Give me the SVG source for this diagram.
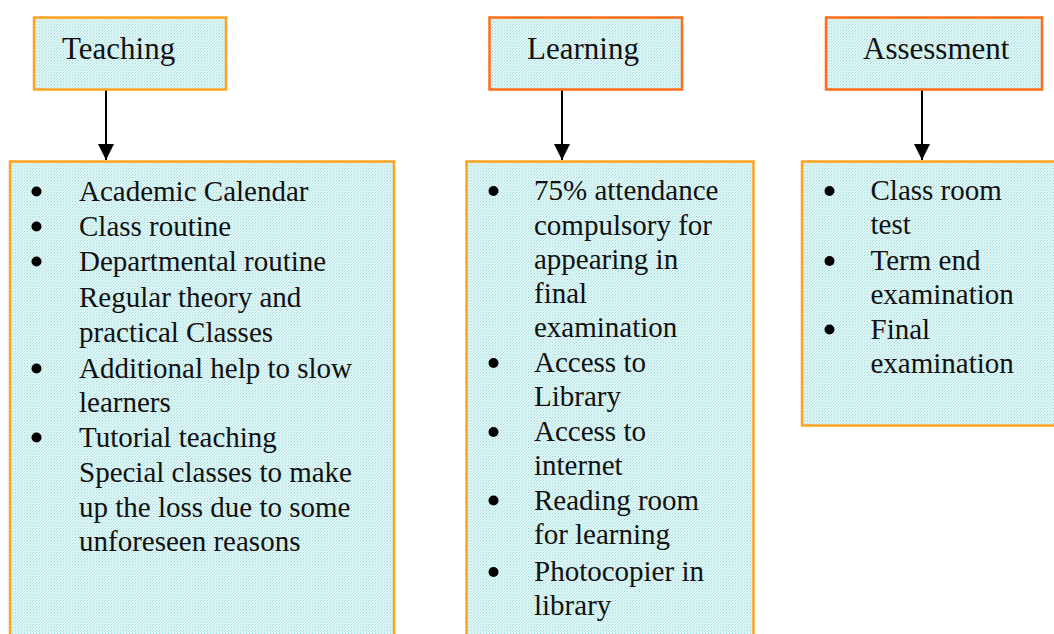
<svg xmlns="http://www.w3.org/2000/svg" width="1054" height="634" viewBox="0 0 1054 634">
<style>
.t{font-family:"Liberation Serif","Times New Roman",serif;fill:#111;}
.h{font-size:31px;}
.b{font-size:29px;}
.box{fill:url(#dots);stroke:#ffa21f;stroke-width:2.5;}
.hd2{fill:url(#dots);stroke:#ff6d1a;stroke-width:2.5;}
.bul{fill:#000;}
.conn{stroke:#000;stroke-width:2;fill:none;}
</style>
<defs>
<pattern id="dots" width="3" height="3" patternUnits="userSpaceOnUse">
<rect width="3" height="3" fill="#e2f6f6"/>
<rect x="0" y="0" width="1" height="1" fill="#9fdede"/>
<rect x="2" y="1" width="1" height="1" fill="#b5e7e7"/>
<rect x="1" y="2" width="1" height="1" fill="#c2ecec"/>
</pattern>
<marker id="ah" viewBox="0 0 10 10" refX="10" refY="5" markerWidth="16" markerHeight="16" markerUnits="userSpaceOnUse" orient="auto">
<path d="M0,0 L10,5 L0,10 z" fill="#000"/>
</marker>
</defs>

<g id="connectors">
<line class="conn" x1="106" y1="89" x2="106" y2="160" marker-end="url(#ah)"/>
<line class="conn" x1="562" y1="89" x2="562" y2="160" marker-end="url(#ah)"/>
<line class="conn" x1="922" y1="89" x2="922" y2="160" marker-end="url(#ah)"/>
</g>

<g id="teaching-header">
<rect class="box" x="34" y="17.5" width="192" height="72"/>
<text class="t h" x="62" y="59">Teaching</text>
</g>
<g id="learning-header">
<rect class="hd2" x="489.5" y="17.5" width="192.5" height="72"/>
<text class="t h" x="527" y="59">Learning</text>
</g>
<g id="assessment-header">
<rect class="hd2" x="826" y="17.5" width="216" height="72"/>
<text class="t h" x="863" y="59">Assessment</text>
</g>

<g id="teaching-body">
<rect class="box" x="10" y="161.5" width="384" height="480"/>
<circle class="bul" cx="36.5" cy="191.5" r="5"/>
<circle class="bul" cx="36.5" cy="226.5" r="5"/>
<circle class="bul" cx="36.5" cy="261.5" r="5"/>
<circle class="bul" cx="36.5" cy="368.5" r="5"/>
<circle class="bul" cx="36.5" cy="437.5" r="5"/>
<text class="t b" x="79" y="200.5">Academic Calendar</text>
<text class="t b" x="79" y="236">Class routine</text>
<text class="t b" x="79" y="271">Departmental routine</text>
<text class="t b" x="79" y="307">Regular theory and</text>
<text class="t b" x="79" y="342">practical Classes</text>
<text class="t b" x="79" y="377.5">Additional help to slow</text>
<text class="t b" x="79" y="411.5">learners</text>
<text class="t b" x="79" y="446.5">Tutorial teaching</text>
<text class="t b" x="79" y="482">Special classes to make</text>
<text class="t b" x="79" y="516.5">up the loss due to some</text>
<text class="t b" x="79" y="550.5">unforeseen reasons</text>
</g>

<g id="learning-body">
<rect class="box" x="466.5" y="161.5" width="287" height="480"/>
<circle class="bul" cx="493.5" cy="191" r="5"/>
<circle class="bul" cx="493.5" cy="363" r="5"/>
<circle class="bul" cx="493.5" cy="432" r="5"/>
<circle class="bul" cx="493.5" cy="500.5" r="5"/>
<circle class="bul" cx="493.5" cy="572" r="5"/>
<text class="t b" x="534" y="200">75% attendance</text>
<text class="t b" x="534" y="234.5">compulsory for</text>
<text class="t b" x="534" y="268.5">appearing in</text>
<text class="t b" x="534" y="302.5">final</text>
<text class="t b" x="534" y="336.5">examination</text>
<text class="t b" x="534" y="371.5">Access to</text>
<text class="t b" x="534" y="405.5">Library</text>
<text class="t b" x="534" y="440.5">Access to</text>
<text class="t b" x="534" y="474.5">internet</text>
<text class="t b" x="534" y="509.5">Reading room</text>
<text class="t b" x="534" y="543.5">for learning</text>
<text class="t b" x="534" y="581">Photocopier in</text>
<text class="t b" x="534" y="614.5">library</text>
</g>

<g id="assessment-body">
<rect class="box" x="802" y="161.5" width="270" height="264"/>
<circle class="bul" cx="829.5" cy="191" r="5"/>
<circle class="bul" cx="829.5" cy="261" r="5"/>
<circle class="bul" cx="829.5" cy="329.5" r="5"/>
<text class="t b" x="870.5" y="200">Class room</text>
<text class="t b" x="870.5" y="234">test</text>
<text class="t b" x="870.5" y="269.5">Term end</text>
<text class="t b" x="870.5" y="303.5">examination</text>
<text class="t b" x="870.5" y="338.5">Final</text>
<text class="t b" x="870.5" y="373">examination</text>
</g>
</svg>
